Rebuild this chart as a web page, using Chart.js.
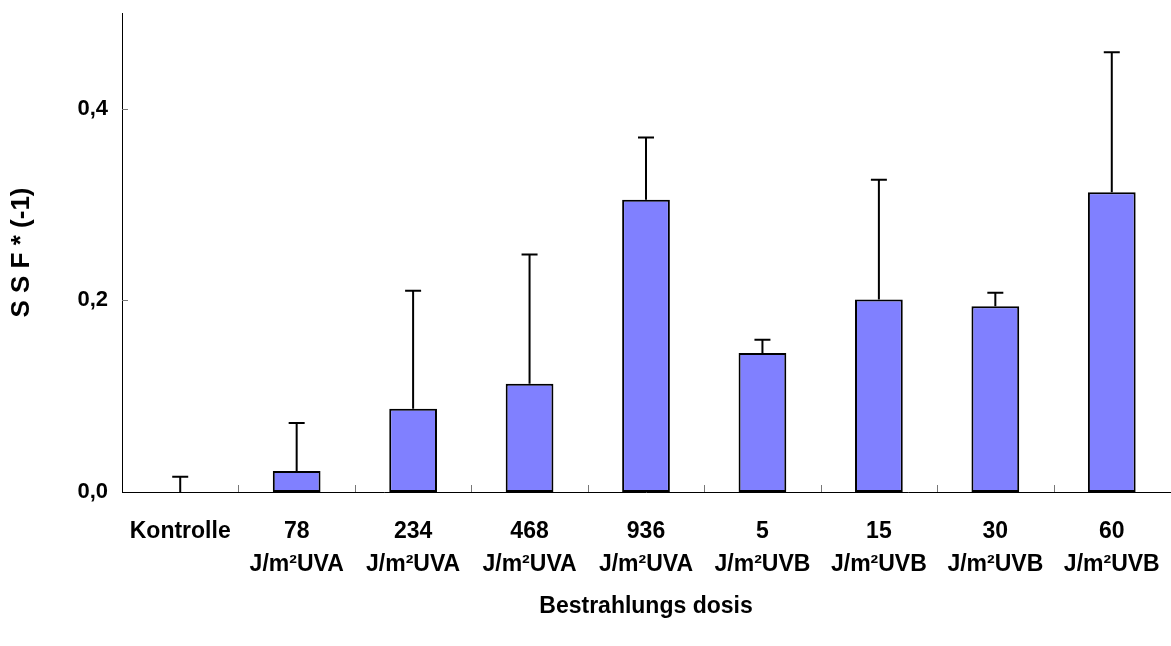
<!DOCTYPE html>
<html>
<head>
<meta charset="utf-8">
<script src="https://cdn.jsdelivr.net/npm/chart.js@4/dist/chart.umd.min.js"></script>
<style>
  html, body { margin: 0; padding: 0; background: #fff; }
  #wrap { width: 1171px; height: 646px; }
</style>
</head>
<body>
<div id="wrap"><canvas id="myChart"></canvas></div>
<script>
// data
const labels = [
  'Kontrolle',
  ['78', 'J/m²UVA'],
  ['234', 'J/m²UVA'],
  ['468', 'J/m²UVA'],
  ['936', 'J/m²UVA'],
  ['5', 'J/m²UVB'],
  ['15', 'J/m²UVB'],
  ['30', 'J/m²UVB'],
  ['60', 'J/m²UVB']
]
const means = [0, 0.022, 0.087, 0.113, 0.305, 0.145, 0.201, 0.194, 0.313]
const errors = [0.016, 0.05, 0.123, 0.135, 0.065, 0.014, 0.125, 0.014, 0.146]
const yTicks = [0, 0.2, 0.4]

const FONT = '"Liberation Sans", Arial, sans-serif'

// error bars (upward only) and inward tick marks
const extras = {
  id: 'extras',
  afterDatasetsDraw(chart) {
    const { ctx, scales: { x, y } } = chart
    ctx.save()
    ctx.strokeStyle = '#000'
    ctx.lineWidth = 2
    means.forEach((m, i) => {
      const px = x.getPixelForValue(i)
      const y0 = y.getPixelForValue(m)
      const y1 = y.getPixelForValue(m + errors[i])
      ctx.beginPath()
      ctx.moveTo(px, y0)
      ctx.lineTo(px, y1)
      ctx.moveTo(px - 8, y1)
      ctx.lineTo(px + 8, y1)
      ctx.stroke()
    })
    ctx.strokeStyle = '#777'
    ctx.lineWidth = 1
    for (let i = 0; i < labels.length - 1; i++) {
      const ex = Math.round((x.getPixelForValue(i) + x.getPixelForValue(i + 1)) / 2) + 0.5
      ctx.beginPath()
      ctx.moveTo(ex, y.bottom)
      ctx.lineTo(ex, y.bottom - 7)
      ctx.stroke()
    }
    yTicks.slice(1).forEach(v => {
      const py = Math.round(y.getPixelForValue(v)) + 0.5
      ctx.beginPath()
      ctx.moveTo(x.left, py)
      ctx.lineTo(x.left + 6, py)
      ctx.stroke()
    })
    ctx.restore()
  }
}

const ctx = document.getElementById('myChart')
// eslint-disable-next-line no-unused-vars
const myChart = new Chart(ctx, {
  type: 'bar',
  data: {
    labels: labels,
    datasets: [{
      data: means,
      backgroundColor: '#8080ff',
      borderColor: '#000',
      borderWidth: 2,
      borderSkipped: false,
      barPercentage: 1,
      categoryPercentage: 0.41
    }]
  },
  options: {
    responsive: true,
    maintainAspectRatio: false,
    animation: false,
    layout: { padding: { top: 13, right: 1, left: 0, bottom: 26 } },
    plugins: {
      legend: { display: false },
      tooltip: { enabled: false }
    },
    scales: {
      x: {
        afterFit: scale => {
          scale.height = 128
          scale.paddingLeft = 0
          scale.paddingRight = 0
        },
        grid: { display: false, drawTicks: false },
        border: { display: true, color: '#000', width: 1 },
        ticks: {
          color: '#000',
          padding: 24,
          maxRotation: 0,
          autoSkip: false,
          font: { family: FONT, size: 23, weight: 'bold', lineHeight: 1.4 }
        },
        title: {
          display: true,
          text: 'Bestrahlungs dosis',
          color: '#000',
          padding: { top: 0, bottom: 0 },
          font: { family: FONT, size: 23, weight: 'bold' }
        }
      },
      y: {
        min: 0,
        max: 0.5,
        afterBuildTicks: scale => {
          scale.ticks = yTicks.map(v => ({ value: v }))
        },
        afterFit: scale => {
          scale.width = 122
          scale.paddingTop = 0
          scale.paddingBottom = 0
        },
        grid: { display: false, drawTicks: false },
        border: { display: true, color: '#000', width: 1 },
        ticks: {
          color: '#000',
          padding: 14,
          font: { family: FONT, size: 22, weight: 'bold' },
          callback: v => v.toFixed(1).replace('.', ',')
        },
        title: {
          display: true,
          text: 'S S F * (-1)',
          color: '#000',
          padding: { top: 6, bottom: 0 },
          font: { family: FONT, size: 26, weight: 'bold' }
        }
      }
    }
  },
  plugins: [extras]
})
</script>
</body>
</html>
